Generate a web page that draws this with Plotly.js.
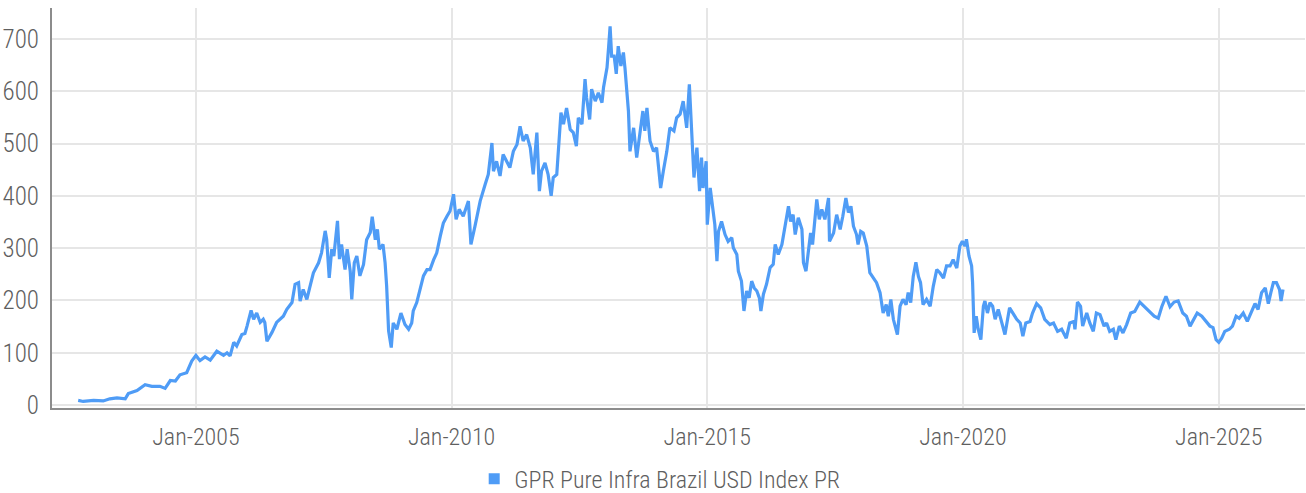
<!DOCTYPE html>
<html>
<head>
<meta charset="utf-8">
<script src="https://cdn.plot.ly/plotly-3.0.1.min.js"></script>
<style>
  html, body { margin: 0; padding: 0; background: #fff; }
  #chart { width: 1306px; height: 493px; }
</style>
</head>
<body>
<div id="chart"></div>
<script>
// Time points as decimal years
const timeYears = [
  2002.70,2002.80,2003.00,2003.19,2003.32,2003.46,2003.62,2003.68,2003.85,2004.01,
  2004.14,2004.30,2004.40,2004.50,2004.60,2004.69,2004.82,2004.92,2005.00,2005.08,
  2005.18,2005.28,2005.41,2005.54,2005.61,2005.67,2005.74,2005.80,2005.90,2005.96,
  2006.00,2006.08,2006.13,2006.19,2006.26,2006.32,2006.35,2006.39,2006.49,2006.58,
  2006.71,2006.78,2006.88,2006.94,2007.01,2007.04,2007.10,2007.17,2007.23,2007.30,
  2007.40,2007.46,2007.53,2007.56,2007.61,2007.66,2007.70,2007.77,2007.81,2007.85,
  2007.92,2007.96,2008.02,2008.05,2008.10,2008.15,2008.21,2008.28,2008.34,2008.41,
  2008.45,2008.51,2008.55,2008.59,2008.66,2008.70,2008.73,2008.77,2008.82,2008.86,
  2008.93,2009.01,2009.09,2009.16,2009.22,2009.25,2009.32,2009.39,2009.45,2009.52,
  2009.58,2009.65,2009.71,2009.78,2009.84,2009.91,2009.97,2010.04,2010.09,2010.15,
  2010.23,2010.33,2010.38,2010.46,2010.52,2010.56,2010.66,2010.72,2010.79,2010.82,
  2010.88,2010.95,2011.01,2011.08,2011.14,2011.21,2011.28,2011.34,2011.40,2011.47,
  2011.54,2011.60,2011.67,2011.72,2011.76,2011.83,2011.89,2011.95,2011.99,2012.06,
  2012.09,2012.14,2012.19,2012.25,2012.32,2012.38,2012.44,2012.48,2012.55,2012.61,
  2012.64,2012.70,2012.74,2012.81,2012.87,2012.94,2012.97,2013.04,2013.07,2013.10,
  2013.13,2013.18,2013.22,2013.26,2013.31,2013.36,2013.39,2013.46,2013.49,2013.56,
  2013.62,2013.69,2013.74,2013.78,2013.82,2013.88,2013.95,2014.01,2014.09,2014.14,
  2014.21,2014.27,2014.35,2014.40,2014.47,2014.53,2014.60,2014.65,2014.70,2014.74,
  2014.80,2014.85,2014.89,2014.92,2014.98,2015.00,2015.06,2015.11,2015.15,2015.19,
  2015.22,2015.28,2015.35,2015.41,2015.48,2015.51,2015.58,2015.61,2015.67,2015.72,
  2015.77,2015.82,2015.87,2015.92,2015.97,2016.02,2016.05,2016.10,2016.16,2016.23,
  2016.29,2016.33,2016.39,2016.46,2016.52,2016.59,2016.63,2016.68,2016.72,2016.78,
  2016.85,2016.88,2016.93,2016.98,2017.02,2017.06,2017.11,2017.14,2017.19,2017.24,
  2017.30,2017.37,2017.39,2017.47,2017.53,2017.60,2017.65,2017.71,2017.76,2017.81,
  2017.86,2017.92,2017.95,2018.00,2018.05,2018.12,2018.18,2018.25,2018.31,2018.38,
  2018.44,2018.50,2018.54,2018.59,2018.64,2018.72,2018.77,2018.83,2018.89,2018.93,
  2018.98,2019.03,2019.08,2019.13,2019.17,2019.22,2019.29,2019.36,2019.42,2019.49,
  2019.55,2019.62,2019.68,2019.75,2019.81,2019.88,2019.94,2019.99,2020.04,2020.07,
  2020.12,2020.17,2020.19,2020.22,2020.26,2020.30,2020.35,2020.40,2020.43,2020.48,
  2020.53,2020.58,2020.63,2020.69,2020.76,2020.82,2020.91,2020.98,2021.05,2021.12,
  2021.17,2021.23,2021.31,2021.36,2021.44,2021.52,2021.60,2021.70,2021.77,2021.85,
  2021.93,2022.02,2022.09,2022.17,2022.19,2022.24,2022.30,2022.34,2022.42,2022.48,
  2022.55,2022.61,2022.68,2022.76,2022.81,2022.87,2022.94,2022.99,2023.06,2023.13,
  2023.20,2023.28,2023.36,2023.46,2023.56,2023.66,2023.74,2023.82,2023.89,2023.97,
  2024.05,2024.13,2024.21,2024.30,2024.37,2024.44,2024.52,2024.58,2024.67,2024.75,
  2024.83,2024.89,2024.95,2025.00,2025.06,2025.12,2025.21,2025.27,2025.34,2025.40,
  2025.48,2025.56,2025.63,2025.71,2025.77,2025.84,2025.91,2025.97,2026.02,2026.07,
  2026.13,2026.19,2026.22,2026.26
];

// Index level (GPR Pure Infra Brazil USD Index PR)
const indexValues = [
  9,7,9,8,12,14,12,22,28,39,
  36,36,32,47,46,58,62,84,95,85,
  92,86,103,95,100,94,120,113,135,137,
  151,181,164,176,158,164,158,122,139,158,
  170,183,196,231,234,199,221,202,225,253,
  272,291,333,316,243,298,285,352,279,307,
  259,298,256,202,272,285,247,269,316,330,
  360,316,336,298,307,272,228,142,110,157,
  145,176,154,145,157,180,196,227,247,259,
  259,278,291,323,348,361,371,403,355,374,
  361,390,307,342,374,390,422,441,501,447,
  466,438,479,466,454,485,498,533,505,517,
  492,441,521,409,447,463,441,400,435,441,
  492,559,537,568,527,521,495,549,537,623,
  588,546,604,581,597,578,607,645,683,724,
  667,667,633,686,648,674,645,562,485,530,
  473,524,562,524,568,505,485,492,415,447,
  485,530,524,549,556,581,530,613,530,435,
  492,409,473,415,466,345,415,377,345,275,
  332,351,326,313,320,301,288,256,237,180,
  218,205,237,224,218,205,180,212,231,263,
  269,307,288,307,339,380,351,364,326,358,
  336,272,256,304,329,307,355,393,355,374,
  355,396,313,329,364,336,361,396,368,380,
  342,326,307,332,329,304,253,243,234,215,
  176,192,170,202,164,135,189,202,192,215,
  196,246,273,246,234,192,202,189,227,259,
  253,243,266,266,278,262,304,313,304,317,
  285,266,234,138,170,145,125,189,199,176,
  196,189,164,183,157,135,186,176,164,157,
  132,157,160,176,194,186,164,154,157,141,
  145,128,157,160,145,197,189,151,176,157,
  141,176,173,151,157,141,145,125,151,138,
  154,176,179,197,188,179,170,166,188,208,
  188,197,199,176,170,151,164,176,170,160,
  151,148,125,120,128,141,145,151,170,166,
  176,160,176,194,183,215,224,194,215,234,
  234,221,199,221
];

const seriesName = 'GPR Pure Infra Brazil USD Index PR';
const tickYears = [2005, 2010, 2015, 2020, 2025];
const tickLabels = ['Jan-2005', 'Jan-2010', 'Jan-2015', 'Jan-2020', 'Jan-2025'];
const yTicks = [0, 100, 200, 300, 400, 500, 600, 700];

function yearToDate(t) {
  const y = Math.floor(t);
  const a = Date.UTC(y, 0, 1), b = Date.UTC(y + 1, 0, 1);
  return new Date(a + (t - y) * (b - a)).toISOString().slice(0, 10);
}

const xDates = timeYears.map(yearToDate);
const lineColor = '#4f9cf6';
const fontFam = '"Roboto Condensed", "Liberation Sans Narrow", "Arial Narrow", Roboto, sans-serif';
const textColor = '#5f5f5f';

const traces = [
  {
    x: xDates, y: indexValues, type: 'scatter', mode: 'lines',
    line: { color: lineColor, width: 3.2 },
    name: seriesName, showlegend: false
  },
  {
    x: [null], y: [null], type: 'scatter', mode: 'markers',
    marker: { symbol: 'square', size: 11, color: lineColor },
    name: seriesName, showlegend: true
  }
];

const layout = {
  width: 1306, height: 493,
  margin: { l: 52, r: 1, t: 8, b: 85, autoexpand: false },
  paper_bgcolor: '#ffffff', plot_bgcolor: '#ffffff',
  font: { family: fontFam, color: textColor, size: 22, weight: 300 },
  showlegend: true,
  legend: {
    orientation: 'h', x: 0.485, xanchor: 'center',
    yref: 'container', y: 0.028, yanchor: 'middle',
    bgcolor: 'rgba(0,0,0,0)',
    font: { family: fontFam, size: 24, color: textColor, weight: 300 },
    itemwidth: 30
  },
  xaxis: {
    type: 'date',
    range: ['2002-03-10', '2026-09-09'],
    tickmode: 'array',
    tickvals: tickYears.map(y => y + '-01-01'),
    ticktext: tickLabels,
    showgrid: true, gridcolor: '#e6e6e6', gridwidth: 2,
    showline: true, linecolor: '#8c8c8c', linewidth: 2,
    ticks: '', ticklen: 0, ticklabelstandoff: 6,
    tickfont: { family: fontFam, size: 24, color: textColor, weight: 300 },
    zeroline: false
  },
  yaxis: {
    range: [-5.5, 759],
    tickmode: 'array', tickvals: yTicks, ticktext: yTicks.map(String),
    showgrid: true, gridcolor: '#e6e6e6', gridwidth: 2,
    showline: true, linecolor: '#8c8c8c', linewidth: 2,
    ticks: '', ticklen: 0, ticklabelstandoff: 6,
    tickfont: { family: fontFam, size: 25, color: textColor, weight: 300 },
    zeroline: false
  }
};

Plotly.newPlot('chart', traces, layout, { displayModeBar: false, staticPlot: true });
</script>
</body>
</html>
